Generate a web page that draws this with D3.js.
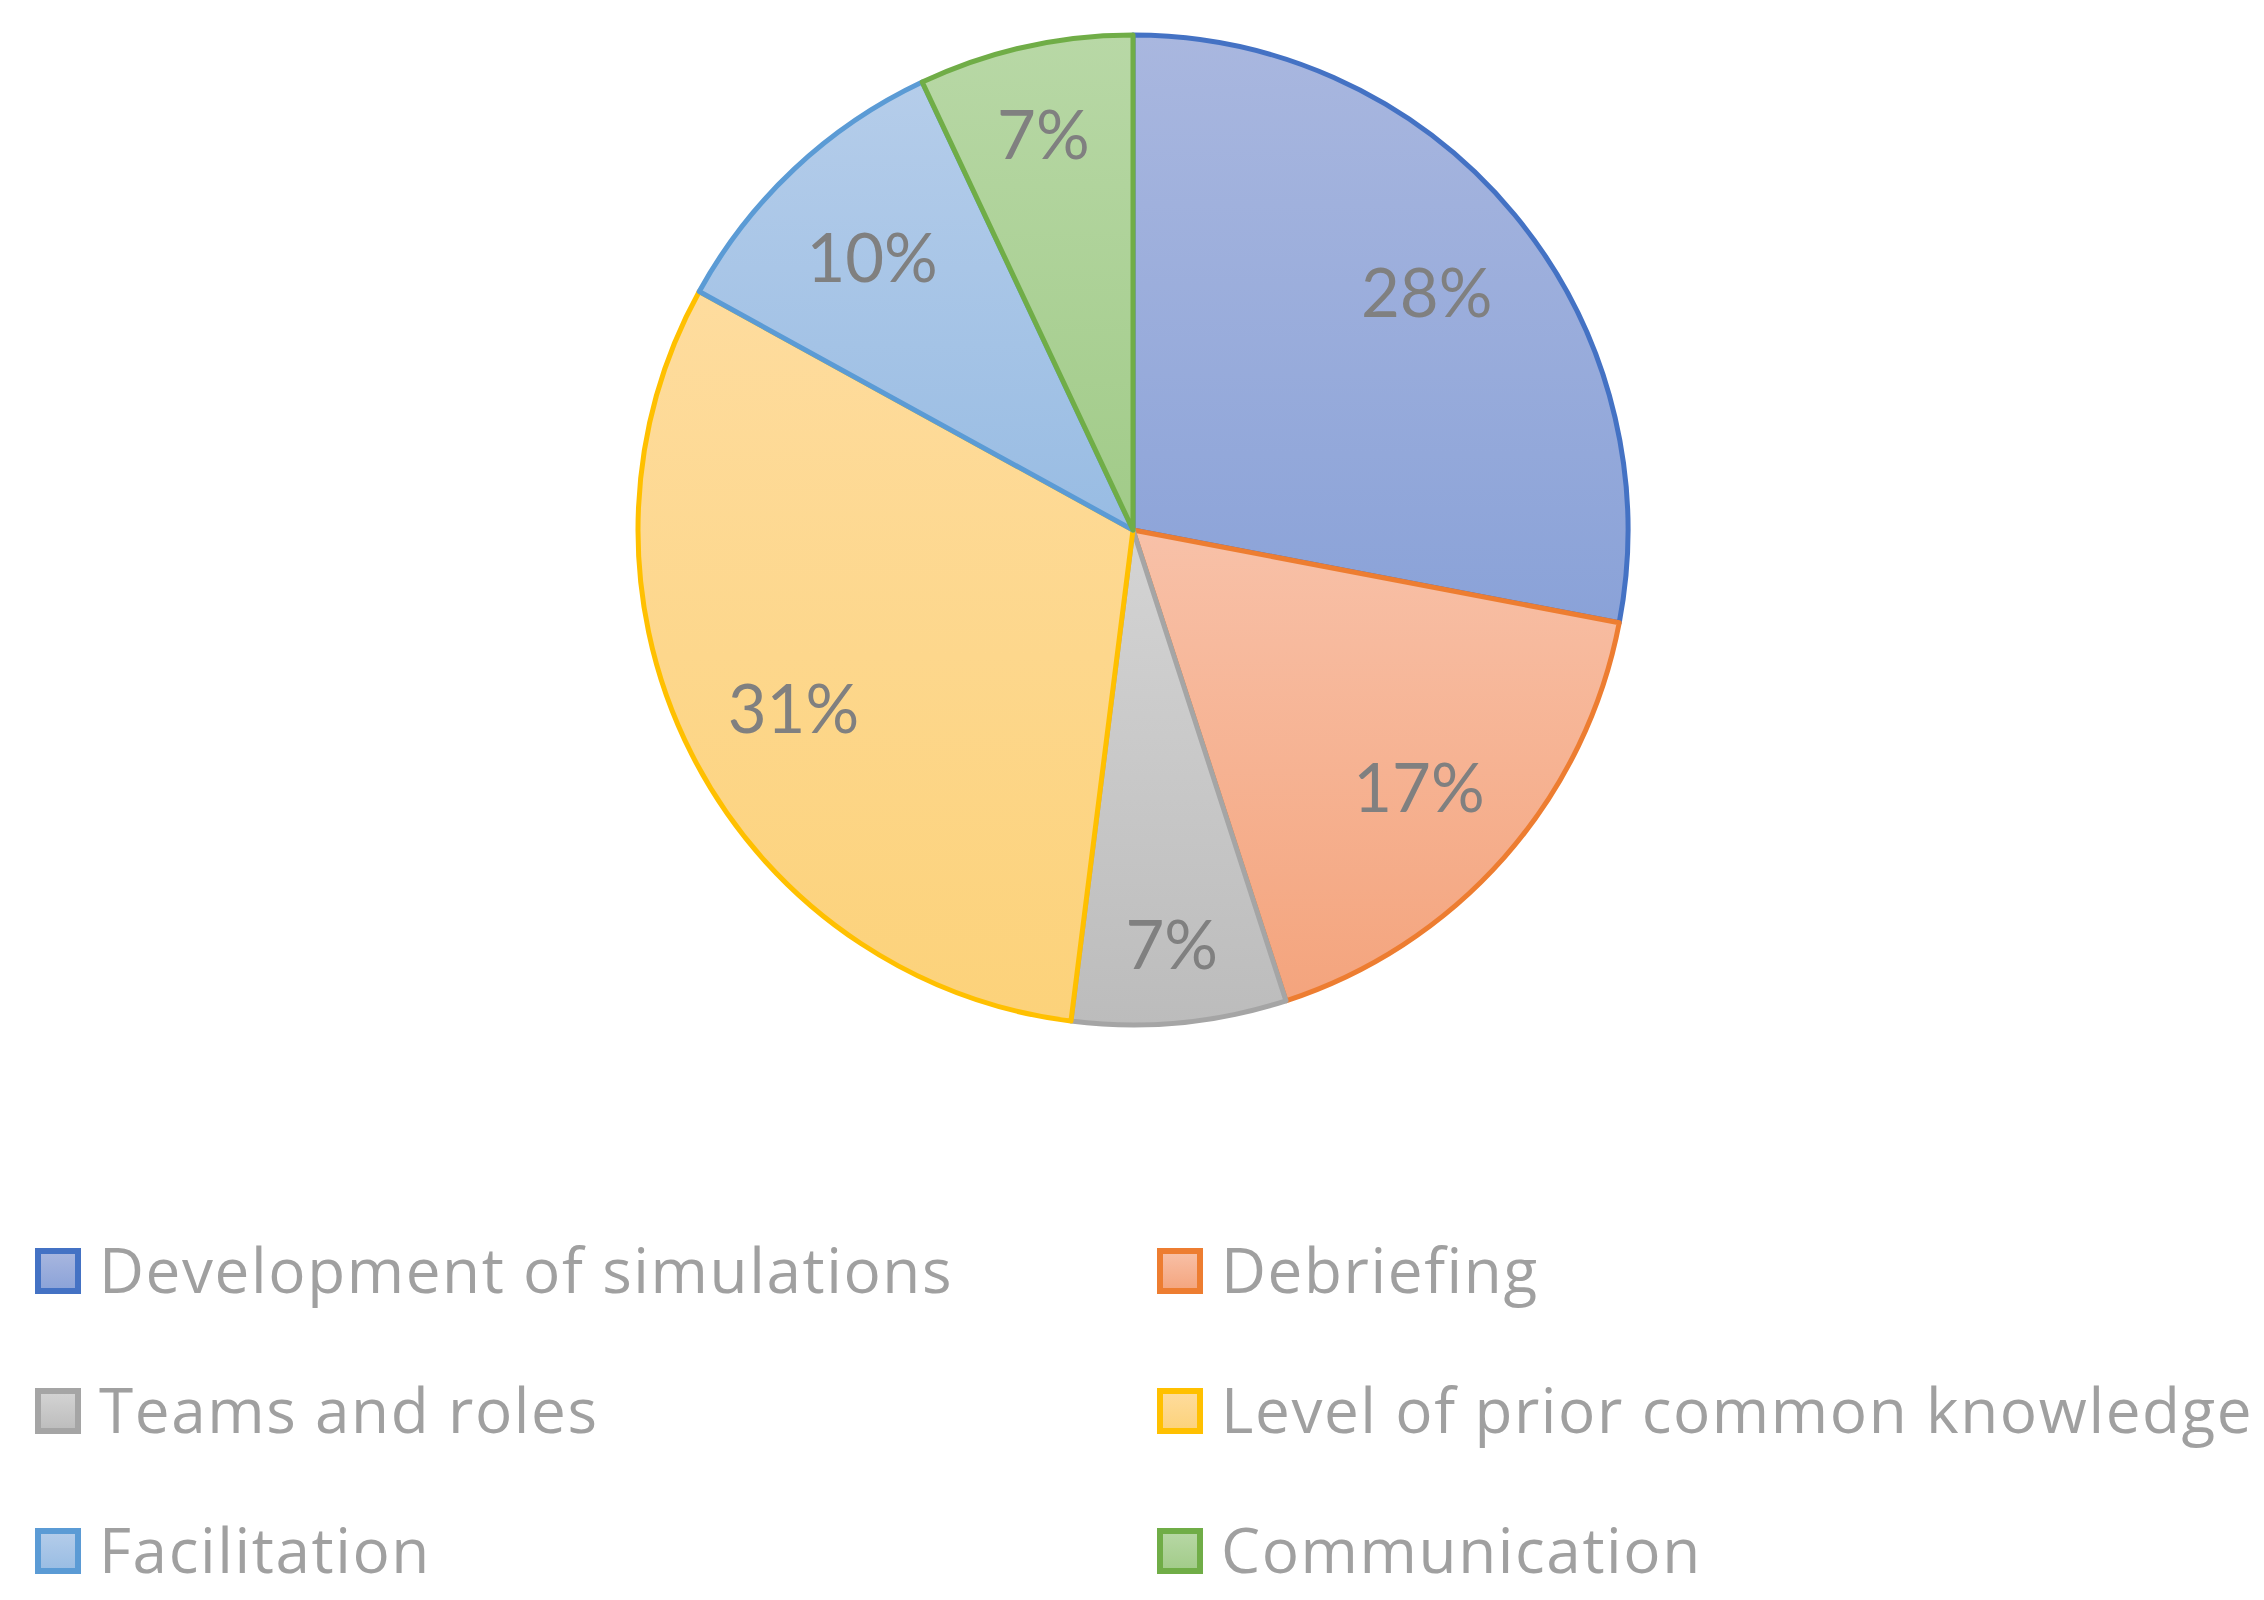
<!DOCTYPE html>
<html>
<head>
<meta charset="utf-8">
<script src="https://cdn.jsdelivr.net/npm/d3@7"></script>
<style>
  body { margin: 0; background: #fff; }
  svg { display: block; }
</style>
</head>
<body>
<div id="chart"></div>
<script>
// chart data
let categories = ["Development of simulations", "Debriefing", "Teams and roles",
                  "Level of prior common knowledge", "Facilitation", "Communication"];
let values = [28, 17, 7, 31, 10, 7];
let lineColors = ["#4472c4", "#ed7d31", "#a5a5a5", "#ffc000", "#5b9bd5", "#70ad47"];
let topColors = ["#a9b7df", "#f8c1a8", "#d4d4d4", "#fedc9e", "#b5cdea", "#b8d8a6"];
let bottomColors = ["#8aa2d8", "#f4a47d", "#bcbcbc", "#fcd27a", "#98bce3", "#a1cb88"];

let width = 2264, height = 1600;
let cx = 1133, cy = 530, radius = 495;

let svg = d3.select("#chart").append("svg")
    .attr("width", width)
    .attr("height", height);

let defs = svg.append("defs");
categories.forEach((c, i) => {
    let grad = defs.append("linearGradient")
        .attr("id", "grad-" + i)
        .attr("x1", 0).attr("y1", 0)
        .attr("x2", 0).attr("y2", 1);
    grad.append("stop").attr("offset", "0%").attr("stop-color", topColors[i]);
    grad.append("stop").attr("offset", "100%").attr("stop-color", bottomColors[i]);
});

let pie = d3.pie().sort(null).value(d => d);
let arcs = pie(values);

let arc = d3.arc().innerRadius(0).outerRadius(radius);

let g = svg.append("g")
    .attr("transform", "translate(" + cx + "," + cy + ")");

g.selectAll(".slice")
    .data(arcs)
    .enter().append("path")
    .attr("class", "slice")
    .attr("d", arc)
    .attr("fill", (d, i) => "url(#grad-" + i + ")")
    .attr("stroke", (d, i) => lineColors[i])
    .attr("stroke-width", 5)
    .attr("stroke-linejoin", "round");

// excel "best fit" pushes labels of narrow slices a bit further out
let labelArc = d => d3.arc()
    .innerRadius(radius * (d.value < 8 ? 0.83 : 0.77))
    .outerRadius(radius * (d.value < 8 ? 0.83 : 0.77));

g.selectAll(".label")
    .data(arcs)
    .enter().append("text")
    .attr("class", "label")
    .attr("transform", d => "translate(" + labelArc(d).centroid(d) + ")")
    .attr("text-anchor", "middle")
    .attr("dy", "0.45em")
    .style("font-family", "Lato, 'Open Sans', sans-serif")
    .style("font-size", "67px")
    .style("fill", "#808080")
    .text(d => d.value + "%");

// legend, two columns
let legendX = [35, 1157], legendY = [1271, 1411, 1551];

let legend = svg.selectAll(".legend")
    .data(categories)
    .enter().append("g")
    .attr("class", "legend")
    .attr("transform", (d, i) => "translate(" + legendX[i % 2] + "," + legendY[Math.floor(i / 2)] + ")");

legend.append("rect")
    .attr("x", 3)
    .attr("y", -20)
    .attr("width", 40)
    .attr("height", 40)
    .attr("fill", (d, i) => "url(#grad-" + i + ")")
    .attr("stroke", (d, i) => lineColors[i])
    .attr("stroke-width", 6);

legend.append("text")
    .attr("x", 64)
    .attr("y", 22)
    .style("font-family", "'Open Sans', Lato, sans-serif")
    .style("font-size", "62px")
    .style("letter-spacing", "1.6px")
    .style("fill", "#a0a0a0")
    .text(d => d);
</script>
</body>
</html>
